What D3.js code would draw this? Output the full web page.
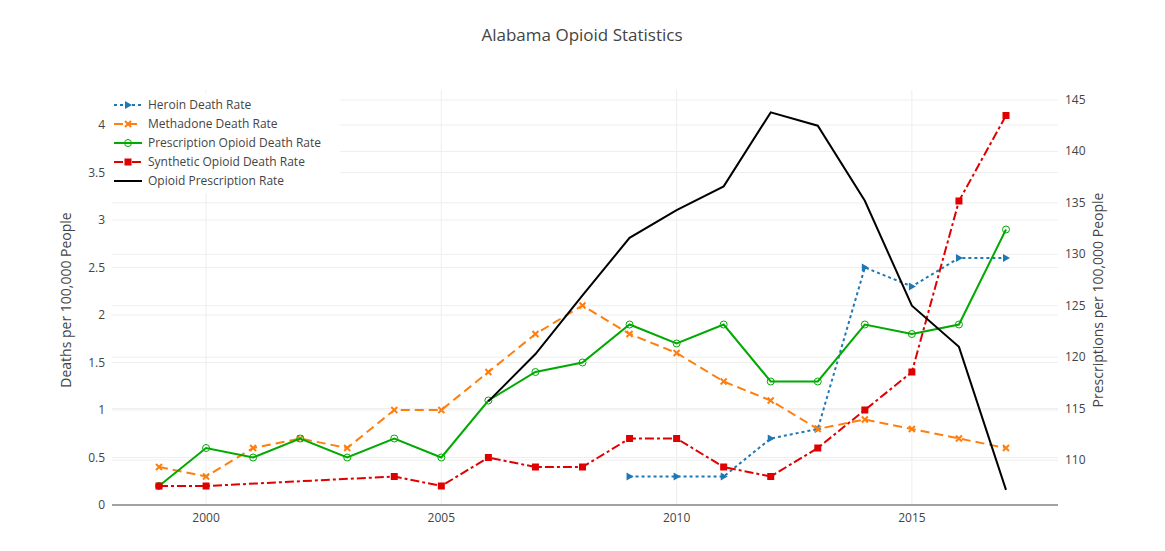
<!DOCTYPE html><html><head><meta charset="utf-8"><script src="https://cdn.jsdelivr.net/npm/d3@7"></script>
<style>body{margin:0;background:#fff;font-family:"Open Sans",sans-serif}</style></head><body><svg id="c" width="1165" height="551"></svg>
<script>
const years=d3.range(1999,2018);
const heroin=[null,null,null,null,null,null,null,null,null,null,0.3,0.3,0.3,0.7,0.8,2.5,2.3,2.6,2.6];
const methadone=[0.4,0.3,0.6,0.7,0.6,1.0,1.0,1.4,1.8,2.1,1.8,1.6,1.3,1.1,0.8,0.9,0.8,0.7,0.6];
const prescription=[0.2,0.6,0.5,0.7,0.5,0.7,0.5,1.1,1.4,1.5,1.9,1.7,1.9,1.3,1.3,1.9,1.8,1.9,2.9];
const synthetic=[0.2,0.2,null,null,null,0.3,0.2,0.5,0.4,0.4,0.7,0.7,0.4,0.3,0.6,1.0,1.4,3.2,4.1];
const rxRate=[null,null,null,null,null,null,null,115.7,120.3,126,131.6,134.3,136.6,143.8,142.5,135.2,125,121,107.1];
const xTicks=[2000,2005,2010,2015], yTicks=[0,0.5,1,1.5,2,2.5,3,3.5,4], y2Ticks=[110,115,120,125,130,135,140,145];
const svg=d3.select("#c"),L=112,R=1058,T=90,B=505;
const x=d3.scaleLinear().domain([1999,2017]).range([159,1006]);
const y=d3.scaleLinear().domain([0,4]).range([B,125]);
const y2=d3.scaleLinear().domain([110,145]).range([460,100]);
const g=svg.append("g");
xTicks.forEach(t=>g.append("line").attr("x1",x(t)).attr("x2",x(t)).attr("y1",T).attr("y2",B).attr("stroke","#eee"));
yTicks.forEach(t=>g.append("line").attr("x1",L).attr("x2",R).attr("y1",y(t)).attr("y2",y(t)).attr("stroke",t==0?"#444":"#eee"));
y2Ticks.forEach(t=>g.append("line").attr("x1",L).attr("x2",R).attr("y1",y2(t)).attr("y2",y2(t)).attr("stroke","#eee"));
const tx=(px,py,s,a,o)=>svg.append("text").attr("x",px).attr("y",py).text(s).attr("text-anchor",a||"middle").attr("font-size",o||12).attr("fill","#444");
xTicks.forEach(t=>tx(x(t),522,t));
yTicks.forEach(t=>tx(105,y(t)+4,t,"end"));
y2Ticks.forEach(t=>tx(1065,y2(t)+4,t,"start"));
tx(582,41,"Alabama Opioid Statistics","middle",17);
svg.append("text").attr("transform","translate(71,300) rotate(-90)").attr("text-anchor","middle").attr("font-size",14).attr("fill","#444").text("Deaths per 100,000 People");
svg.append("text").attr("transform","translate(1103,300) rotate(-90)").attr("text-anchor","middle").attr("font-size",14).attr("fill","#444").text("Prescriptions per 100,000 People");
const series=[
 {n:"Heroin Death Rate",d:heroin,c:"#1f77b4",dash:"3,3",m:"tri",s:y},
 {n:"Methadone Death Rate",d:methadone,c:"#ff7f0e",dash:"9,5",m:"x",s:y},
 {n:"Prescription Opioid Death Rate",d:prescription,c:"#00aa00",dash:null,m:"circle",s:y},
 {n:"Synthetic Opioid Death Rate",d:synthetic,c:"#e00000",dash:"9,3,3,3",m:"sq",s:y},
 {n:"Opioid Prescription Rate",d:rxRate,c:"#000",dash:null,m:null,s:y2}];
function marker(sel,m,c){
 if(m=="tri")sel.append("path").attr("d","M-3,-4L4,0L-3,4Z").attr("fill",c);
 if(m=="x")sel.append("path").attr("d","M-3,-3L3,3M3,-3L-3,3").attr("stroke",c).attr("stroke-width",2);
 if(m=="circle")sel.append("circle").attr("r",3.5).attr("fill","none").attr("stroke",c).attr("stroke-width",1);
 if(m=="sq")sel.append("rect").attr("x",-3.5).attr("y",-3.5).attr("width",7).attr("height",7).attr("fill",c);
}
series.forEach(s=>{
 const pts=years.map((yr,i)=>[yr,s.d[i]]).filter(p=>p[1]!=null);
 svg.append("path").attr("d",d3.line().x(p=>x(p[0])).y(p=>s.s(p[1]))(pts)).attr("fill","none").attr("stroke",s.c).attr("stroke-width",2).attr("stroke-dasharray",s.dash);
 if(s.m)pts.forEach(p=>marker(svg.append("g").attr("transform",`translate(${x(p[0])},${s.s(p[1])})`),s.m,s.c));
});
svg.append("rect").attr("x",108).attr("y",93).attr("width",232).attr("height",100).attr("fill","#fff");
series.forEach((s,i)=>{
 const yy=105+i*19;
 svg.append("line").attr("x1",114).attr("x2",142).attr("y1",yy).attr("y2",yy).attr("stroke",s.c).attr("stroke-width",2).attr("stroke-dasharray",s.dash);
 if(s.m)marker(svg.append("g").attr("transform",`translate(128,${yy})`),s.m,s.c);
 tx(148,yy+4,s.n,"start",12);
});
</script></body></html>
